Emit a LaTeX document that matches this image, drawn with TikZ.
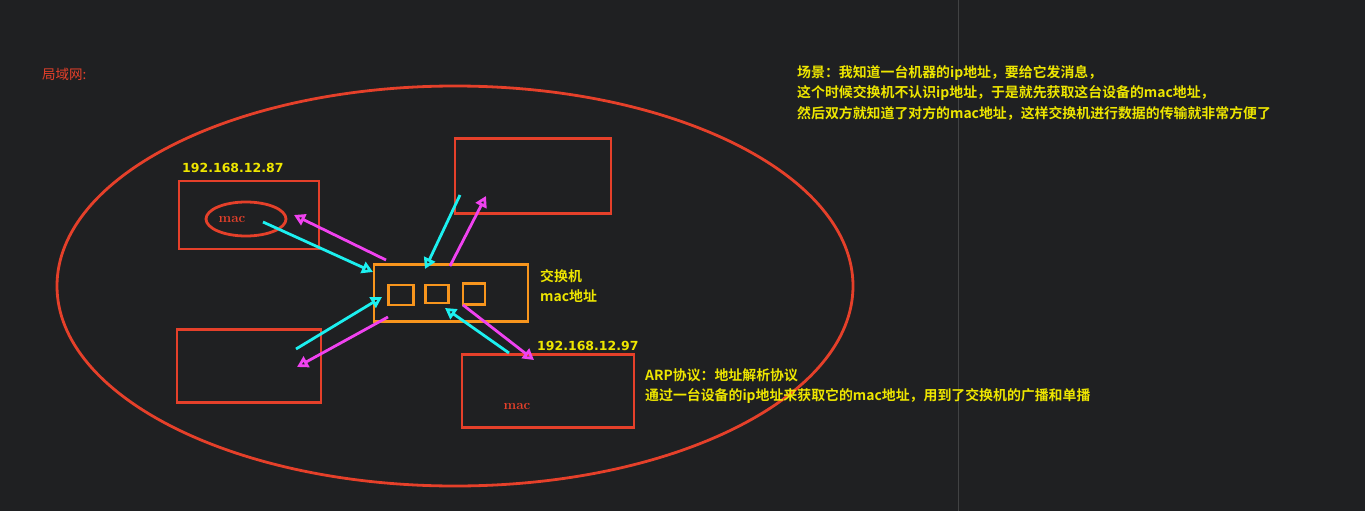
\documentclass[tikz,border=0pt]{standalone}
\usepackage{fontspec}
\usetikzlibrary{arrows.meta}
\newfontfamily\cjk{Noto Sans CJK SC}[BoldFont=* Bold]
\newfontfamily\ipfont{DejaVu Sans}
\definecolor{bgdark}{HTML}{1F2022}
\definecolor{lanred}{HTML}{E5402A}
\definecolor{sworange}{HTML}{F7951D}
\definecolor{noteyellow}{HTML}{EEE600}
\definecolor{reqcyan}{HTML}{1CF0F0}
\definecolor{repmagenta}{HTML}{F042F0}
\tikzset{
  hostbox/.style={draw=lanred, line width=2.8pt, inner sep=0pt},
  portbox/.style={draw=sworange, line width=2.8pt, inner sep=0pt},
  note/.style={text=noteyellow, font=\cjk\bfseries\fontsize{13.9}{20.5}\selectfont, inner sep=0pt, align=left},
  iplabel/.style={text=noteyellow, font=\ipfont\bfseries\fontsize{12.5}{14}\selectfont, inner sep=0pt},
  maclabel/.style={text=lanred, font=\bfseries\fontsize{13.5}{15}\selectfont, inner sep=0pt},
  reqarrow/.style={draw=reqcyan, line width=2.8pt, -{Triangle[open, length=11pt, width=12pt]}},
  reparrow/.style={draw=repmagenta, line width=2.8pt, -{Triangle[open, length=11pt, width=12pt]}}
}

\begin{document}
\begin{tikzpicture}[x=1pt, y=-1pt]
  \fill[bgdark] (0,0) rectangle (1365,511);
  \useasboundingbox (0,0) rectangle (1365,511);
  \draw[gray!35!bgdark, line width=1pt] (958,0) -- (958,511);

  % the LAN
  \node[text=lanred, font=\cjk\fontsize{13.5}{15}\selectfont, inner sep=0pt, anchor=west] (lan) at (42,74) {局域网:};
  \draw[lanred, line width=2.8pt] (455,286) ellipse [x radius=398, y radius=200];

  % hosts
  \node[hostbox, minimum width=140pt, minimum height=68pt] (pcA) at (249,215) {};
  \node[hostbox, minimum width=156pt, minimum height=75pt] (pcB) at (533,176) {};
  \node[hostbox, minimum width=144pt, minimum height=73pt] (pcC) at (249,366) {};
  \node[hostbox, minimum width=172pt, minimum height=73pt] (pcD) at (548,391) {};
  \node[iplabel, anchor=south west] (ipA) at (182,173) {192.168.12.87};
  \node[iplabel, anchor=south west] (ipD) at (537,351) {192.168.12.97};
  \draw[lanred, line width=2.8pt] (246,219) ellipse [x radius=40, y radius=17];
  \node[maclabel] (macA) at (232,219) {mac};
  \node[maclabel] (macD) at (517,406) {mac};

  % switch
  \node[portbox, minimum width=154pt, minimum height=57pt] (sw) at (451,293) {};
  \node[portbox, minimum width=25pt, minimum height=20pt] (p1) at (401,295) {};
  \node[portbox, minimum width=23pt, minimum height=18pt] (p2) at (437,294) {};
  \node[portbox, minimum width=22pt, minimum height=21pt] (p3) at (474,294) {};
  \node[note, anchor=north west] (swname) at (540,269) {交换机\\mac地址};

  % request / reply
  \coordinate (a1) at (263,222); \coordinate (a2) at (373,272);
  \coordinate (a3) at (386,260); \coordinate (a4) at (294,215);
  \coordinate (b1) at (460,195); \coordinate (b2) at (425,269);
  \coordinate (b3) at (450,266); \coordinate (b4) at (486,196);
  \coordinate (c1) at (296,349); \coordinate (c2) at (382,297);
  \coordinate (c3) at (388,317); \coordinate (c4) at (297,367);
  \coordinate (d1) at (509,353); \coordinate (d2) at (445,308);
  \coordinate (d3) at (463,305); \coordinate (d4) at (534,360);
  \draw[reqarrow] (a1) -- (a2);
  \draw[reparrow] (a3) -- (a4);
  \draw[reqarrow] (b1) -- (b2);
  \draw[reparrow] (b3) -- (b4);
  \draw[reqarrow] (c1) -- (c2);
  \draw[reparrow] (c3) -- (c4);
  \draw[reqarrow] (d1) -- (d2);
  \draw[reparrow] (d3) -- (d4);

  % notes
  \node[note, anchor=north west] (scene) at (797,65)
    {场景：我知道一台机器的ip地址，要给它发消息，\\
     这个时候交换机不认识ip地址，于是就先获取这台设备的mac地址，\\
     然后双方就知道了对方的mac地址，这样交换机进行数据的传输就非常方便了};
  \node[note, anchor=north west] (arp) at (645,368)
    {ARP协议：地址解析协议\\
     通过一台设备的ip地址来获取它的mac地址，用到了交换机的广播和单播};
\end{tikzpicture}
\end{document}
